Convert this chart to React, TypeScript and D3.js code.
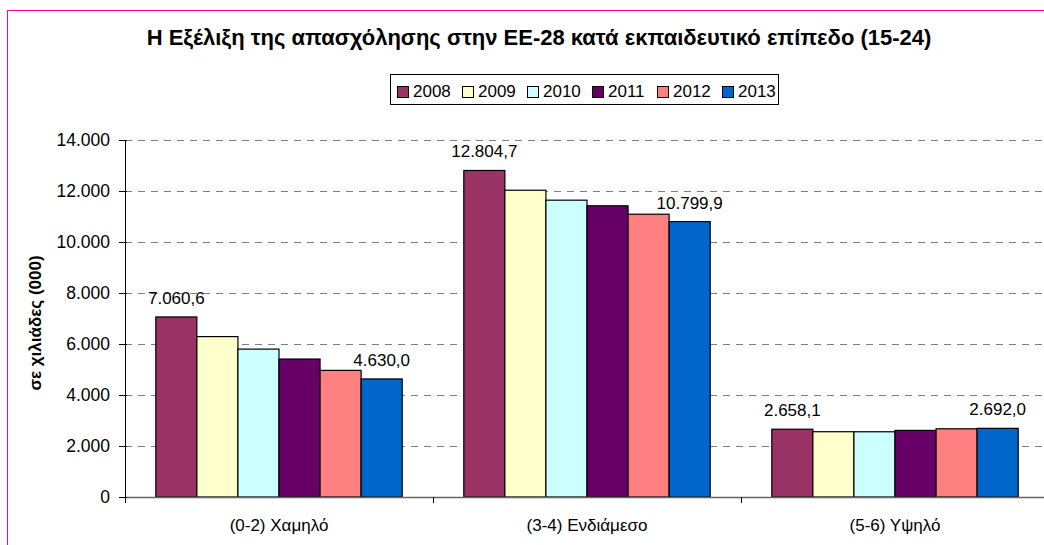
import React from 'react';
import * as d3 from 'd3';

// categories / series
const categories = ['(0-2) Χαμηλό', '(3-4) Ενδιάμεσο', '(5-6) Υψηλό'];
const years = ['2008', '2009', '2010', '2011', '2012', '2013'];
const colors = ['#993366', '#FFFFCC', '#CCFFFF', '#660066', '#FF8080', '#0066CC'];

// values per year, one per category (thousands)
const v2008 = [7060.6, 12804.7, 2658.1];
const v2009 = [6290, 12030, 2560];
const v2010 = [5800, 11640, 2558];
const v2011 = [5410, 11420, 2612];
const v2012 = [4965, 11090, 2675];
const v2013 = [4630.0, 10799.9, 2692.0];
const series = [v2008, v2009, v2010, v2011, v2012, v2013];

const yTicks = [0, 2000, 4000, 6000, 8000, 10000, 12000, 14000];
// only first and last year are labelled
const labelledYears = ['2008', '2013'];

const title = 'Η Εξέλιξη της απασχόλησης στην ΕΕ-28 κατά εκπαιδευτικό επίπεδο (15-24)';
const yTitle = 'σε χιλιάδες (000)';

const W = 1044;
const H = 545;
const font = 'Arial, "Liberation Sans", sans-serif';

const locale = d3.formatLocale({ decimal: ',', thousands: '.', grouping: [3], currency: ['', '€'] });
const fmtTick = locale.format(',.0f');
const fmtVal = locale.format(',.1f');

const App = () => {
  const left = 125;
  const right = left + 308 * 3;
  const x0 = d3.scaleBand().domain(categories).range([left, right]).padding(0);
  const x1 = d3.scaleBand().domain(years).range([0, x0.bandwidth()]).paddingInner(0).paddingOuter(0.75);
  const y = d3.scaleLinear().domain([0, 14000]).range([497, 140]);

  return (
    <svg width={W} height={H} style={{ position: 'absolute', left: 0, top: 0, background: '#fff' }} fontFamily={font}>
      <rect x={7.5} y={10.5} width={1100} height={600} fill="#fff" stroke="#FF0090" strokeWidth={1} />

      <text x={539} y={45} textAnchor="middle" fontSize={22} fontWeight="bold">{title}</text>

      {/* legend */}
      <rect x={390.5} y={74.5} width={388} height={30} fill="#fff" stroke="#000" strokeWidth={1} />
      {years.map((yr, i) => (
        <g key={yr} transform={`translate(${397 + i * 65},0)`}>
          <rect x={0.5} y={86.5} width={11} height={11} fill={colors[i]} stroke="#000" strokeWidth={1} />
          <text x={16} y={97} fontSize={17}>{yr}</text>
        </g>
      ))}

      {/* gridlines */}
      {yTicks.filter(t => t > 0).map(t => (
        <line key={t} x1={left} x2={right} y1={Math.round(y(t)) + 0.5} y2={Math.round(y(t)) + 0.5}
          stroke="#808080" strokeWidth={1} strokeDasharray="7,6" />
      ))}

      {/* bars */}
      {series.map((vals, si) => (
        <g key={years[si]}>
          {vals.map((v, ci) => (
            <rect key={ci} x={(x0(categories[ci]) ?? 0) + (x1(years[si]) ?? 0)} y={y(v)}
              width={x1.bandwidth()} height={y(0) - y(v)} fill={colors[si]} stroke="#000" strokeWidth={1.2} />
          ))}
        </g>
      ))}

      {/* value labels */}
      {series.map((vals, si) => labelledYears.includes(years[si]) && vals.map((v, ci) => (
        <text key={`${si}-${ci}`} x={(x0(categories[ci]) ?? 0) + (x1(years[si]) ?? 0) + x1.bandwidth() / 2}
          y={y(v) - 13} textAnchor="middle" fontSize={17}>{fmtVal(v)}</text>
      )))}

      {/* axes */}
      <line x1={left} x2={right} y1={497.5} y2={497.5} stroke="#666" strokeWidth={1.5} />
      <line x1={left + 0.5} x2={left + 0.5} y1={140} y2={503} stroke="#000" strokeWidth={1} />
      {yTicks.map(t => (
        <g key={t}>
          <line x1={119} x2={127} y1={Math.round(y(t)) + 0.5} y2={Math.round(y(t)) + 0.5} stroke="#000" />
          <text x={110} y={y(t)} dy="0.36em" textAnchor="end" fontSize={17.5}>{fmtTick(t)}</text>
        </g>
      ))}
      {categories.map((c, i) => (
        <g key={c}>
          {i > 0 && <line x1={(x0(c) ?? 0) + 0.5} x2={(x0(c) ?? 0) + 0.5} y1={497} y2={503} stroke="#000" />}
          <text x={(x0(c) ?? 0) + x0.bandwidth() / 2} y={531} textAnchor="middle" fontSize={17}>{c}</text>
        </g>
      ))}

      <text transform="translate(41,323) rotate(-90)" textAnchor="middle" fontSize={17} fontWeight="bold">{yTitle}</text>
    </svg>
  );
};

export default App;
